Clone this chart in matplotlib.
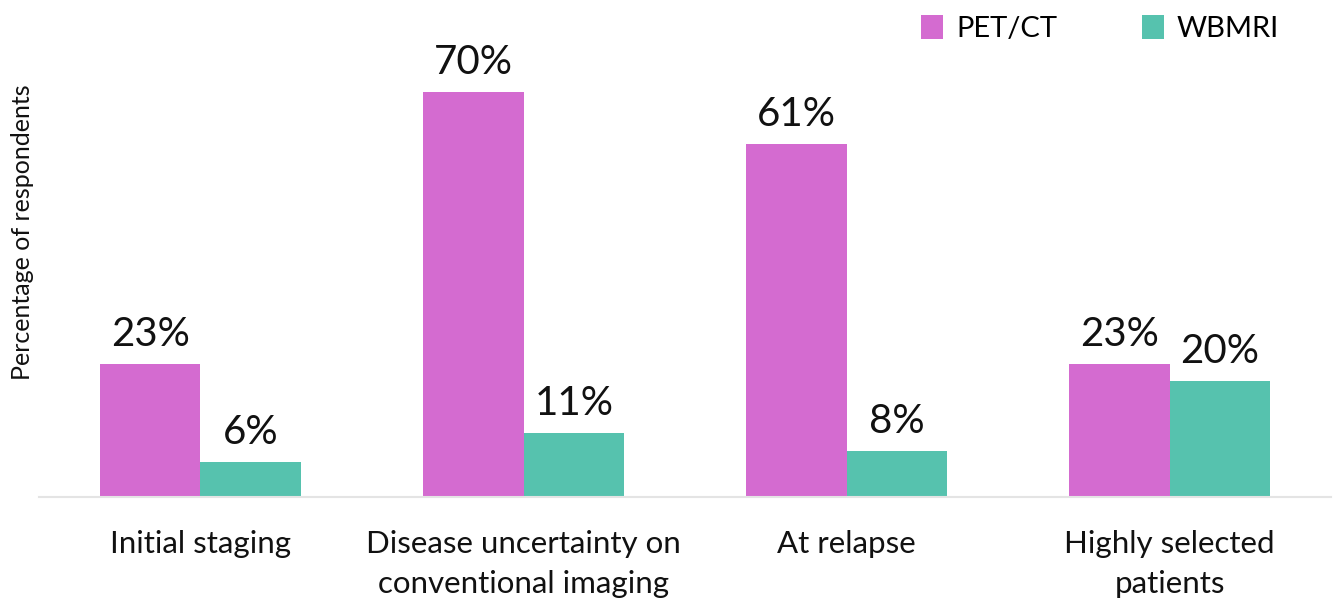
import matplotlib
matplotlib.use("Agg")
import matplotlib.pyplot as plt
import numpy as np
from matplotlib.patches import Patch

categories = ["Initial staging", "Disease uncertainty on\nconventional imaging",
              "At relapse", "Highly selected\npatients"]
pet_ct = [23, 70, 61, 23]
wbmri = [6, 11, 8, 20]
series_names = ["PET/CT", "WBMRI"]
colors = ["#D46BD0", "#56C2AE"]

plt.rcParams["font.family"] = ["Lato", "DejaVu Sans"]

fig = plt.figure(figsize=(13.4, 6.04), dpi=100)
ax = fig.add_axes([0.0291, 0.1772, 0.9642, 0.7665])

x = np.arange(len(categories))
w = 0.312
for vals, off, c in ((pet_ct, -w / 2, colors[0]), (wbmri, w / 2, colors[1])):
    bars = ax.bar(x + off, vals, width=w, color=c, linewidth=0)
    for b, v in zip(bars, vals):
        ax.annotate(f"{v}%", (b.get_x() + b.get_width() / 2, v),
                    xytext=(0, 8), textcoords="offset points",
                    ha="center", va="bottom", fontsize=29, color="#111111")

ax.set_xlim(-0.5, len(categories) - 0.5)
ax.set_ylim(0, 80)
ax.set_xticks(x)
ax.set_xticklabels(categories, fontsize=22.5, color="#111111", linespacing=1.5)
ax.tick_params(axis="x", length=0, pad=24)
ax.set_yticks([])
for s in ("top", "right", "left"):
    ax.spines[s].set_visible(False)
ax.spines["bottom"].set_color("#e4e4e4")
ax.spines["bottom"].set_linewidth(1.5)

fig.text(0.0165, 0.615, "Percentage of respondents", rotation=90,
         ha="center", va="center", fontsize=18, color="#111111")

handles = [Patch(facecolor=c, edgecolor="none") for c in colors]
fig.legend(handles, series_names, loc="upper right", ncol=2, frameon=False,
           bbox_to_anchor=(0.974, 1.018), fontsize=21, handlelength=0.75,
           handleheight=0.85, handletextpad=0.45, columnspacing=2.9)

fig.savefig("out.png", dpi=100, facecolor="white")
